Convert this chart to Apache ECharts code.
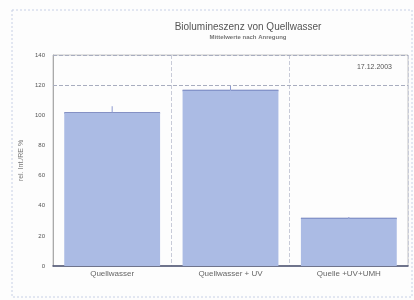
<!DOCTYPE html>
<html>
<head>
<meta charset="utf-8">
<script src="https://cdn.jsdelivr.net/npm/echarts@6/dist/echarts.min.js"></script>
<style>html,body{margin:0;padding:0;background:#fdfdfd;}#c{width:414px;height:300px;}</style>
</head>
<body>
<div id="c"></div>
<script>
var categories = ['Quellwasser', 'Quellwasser + UV', 'Quelle +UV+UMH'];
var values = [101.5, 116.5, 31.5];
var errors = [4.5, 3, 1];
var yTicks = [0, 20, 40, 60, 80, 100, 120, 140];
var titleText = 'Biolumineszenz von Quellwasser';
var subtitleText = 'Mittelwerte nach Anregung';
var dateText = '17.12.2003';
var yName = 'rel. Int./RE %';

var chart = echarts.init(document.getElementById('c'), null, {renderer: 'canvas'});
var errData = values.map(function (v, i) { return [i, v - errors[i], v + errors[i]]; });
chart.setOption({
  backgroundColor: '#fdfdfd',
  animation: false,
  title: {
    text: titleText,
    subtext: subtitleText,
    left: 243, textAlign: 'center', top: 17,
    itemGap: 2,
    textStyle: {fontFamily: 'Liberation Sans', fontSize: 10, fontWeight: 'normal', color: '#555'},
    subtextStyle: {fontFamily: 'Liberation Sans', fontSize: 6, fontWeight: 'bold', color: '#777'}
  },
  grid: {left: 53, right: 6, top: 55, bottom: 34, show: true, borderColor: '#c4c4c4', borderWidth: 1},
  xAxis: {
    type: 'category', data: categories,
    axisLine: {show: true, lineStyle: {color: '#4a5070', width: 1.5}},
    axisTick: {show: false},
    splitLine: {show: true, interval: 0, lineStyle: {type: 'dashed', color: '#c8cbd8'}},
    axisLabel: {fontFamily: 'Liberation Sans', fontSize: 8, color: '#666', margin: 4}
  },
  yAxis: {
    type: 'value', min: 0, max: 140, interval: 20,
    name: yName, nameLocation: 'middle', nameGap: 28, nameRotate: 90,
    nameTextStyle: {fontFamily: 'Liberation Sans', fontSize: 7, color: '#777'},
    axisLine: {show: true, lineStyle: {color: '#aaa'}},
    axisTick: {show: false},
    axisLabel: {fontFamily: 'Liberation Sans', fontSize: 6, color: '#555', margin: 8,
      formatter: function (v) { return yTicks.indexOf(v) >= 0 ? String(v) : ''; }},
    splitLine: {show: false}
  },
  series: [{
    type: 'bar', data: values, barWidth: '81%',
    itemStyle: {color: '#abbbe4'},
    markLine: {
      silent: true, symbol: 'none', label: {show: false},
      lineStyle: {type: 'dashed', color: '#a8adbf', width: 1},
      data: [{yAxis: 120}, {yAxis: 140}]
    }
  }, {
    type: 'custom', data: errData,
    renderItem: function (params, api) {
      var x = api.value(0);
      var lo = api.coord([x, api.value(1)]);
      var hi = api.coord([x, api.value(2)]);
      var top = api.coord([x, values[params.dataIndex]]);
      var bw = api.size([1, 0])[0] * 0.81;
      return {type: 'group', children: [
        {type: 'line', shape: {x1: top[0] - bw / 2, y1: top[1], x2: top[0] + bw / 2, y2: top[1]},
         style: {stroke: '#5d6db0', lineWidth: 1.5}},
        {type: 'line', shape: {x1: lo[0], y1: lo[1], x2: hi[0], y2: hi[1]},
         style: {stroke: '#8d9ad0', lineWidth: 1}},
        {type: 'line', shape: {x1: lo[0] - bw * 0.3, y1: lo[1], x2: lo[0] + bw * 0.3, y2: lo[1]},
         style: {stroke: '#9aa6d6', lineWidth: 1}}
      ]};
    }
  }],
  graphic: [
    {type: 'rect', shape: {x: 12, y: 10, width: 400, height: 287},
     style: {fill: 'none', stroke: '#c7d0e6', lineWidth: 1, lineDash: [2, 2]}, silent: true, z: -1},
    {type: 'text', x: 392, y: 64, style: {text: dateText, textAlign: 'right',
      fontFamily: 'Liberation Sans', fontSize: 7, fill: '#555'}}
  ]
});
</script>
</body>
</html>
